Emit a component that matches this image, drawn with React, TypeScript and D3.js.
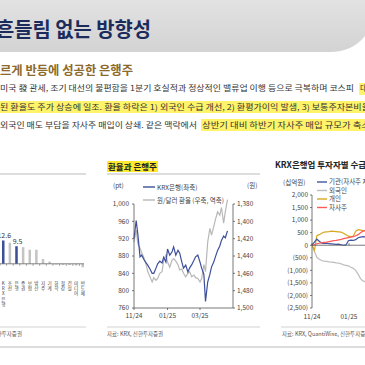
import * as d3 from "d3"

// 좌측 막대 (일부만 보임)
const barCats = ["KRX 은행", "조선", "은행", "증권", "보험", "방산", "지주", "기계", "화학", "철강", "건설", "미디어", "반도체"]
const barVals = [12.6, 11.4, 9.5, 9.0, 7.6, 7.6, 2.6, 1.2, -0.4, -0.6, -0.7, -0.9, -1.9]
const barBlue = ["KRX 은행", "은행"]

// 환율과 은행주
const fxDates = [
  "2024-11-01", "2024-11-05", "2024-11-08", "2024-11-12", "2024-11-15", "2024-11-19", "2024-11-23", "2024-11-26",
  "2024-11-30", "2024-12-04", "2024-12-07", "2024-12-11", "2024-12-14", "2024-12-18", "2024-12-22", "2024-12-25",
  "2024-12-29", "2025-01-01", "2025-01-05", "2025-01-09", "2025-01-12", "2025-01-16", "2025-01-20", "2025-01-23",
  "2025-01-27", "2025-01-30", "2025-02-03", "2025-02-07", "2025-02-10", "2025-02-14", "2025-02-18", "2025-02-21",
  "2025-02-25", "2025-03-01", "2025-03-04", "2025-03-08", "2025-03-11", "2025-03-15", "2025-03-19", "2025-03-22",
  "2025-03-26", "2025-03-29", "2025-04-02", "2025-04-06", "2025-04-09", "2025-04-13", "2025-04-16", "2025-04-20",
]
const krxBank = [
  921, 962, 930, 878, 882, 872, 864, 859, 850, 840, 840, 852, 862, 868, 864, 877,
  866, 896, 882, 889, 901, 882, 893, 887, 866, 852, 859, 843, 852, 860, 870, 878,
  882, 866, 852, 838, 775, 820, 838, 855, 866, 878, 893, 903, 916, 926, 922, 938,
]
const usdKrw = [
  1424, 1410, 1426, 1431, 1436, 1442, 1450, 1458, 1464, 1470, 1465, 1468, 1466, 1460, 1458, 1445,
  1439, 1447, 1453, 1445, 1443, 1446, 1450, 1456, 1455, 1460, 1464, 1460, 1458, 1464, 1462, 1465,
  1466, 1470, 1466, 1450, 1458, 1424, 1408, 1416, 1406, 1398, 1389, 1393, 1384, 1402, 1389, 1375,
]
const fxTicksL = [760, 800, 840, 880, 920, 960, 1000]
const fxTicksR = [1380, 1400, 1420, 1440, 1460, 1480, 1500]
const fxTicksX = [["2024-11-01", "11/24"], ["2025-01-01", "01/25"], ["2025-03-01", "03/25"]]

// KRX은행업 투자자별 수급
const flowDates = [
  "2024-11-01", "2024-11-05", "2024-11-09", "2024-11-13", "2024-11-17", "2024-11-21", "2024-11-25", "2024-11-29",
  "2024-12-03", "2024-12-07", "2024-12-11", "2024-12-15", "2024-12-19", "2024-12-23", "2024-12-27", "2024-12-31",
  "2025-01-04", "2025-01-08", "2025-01-12", "2025-01-16", "2025-01-20", "2025-01-24", "2025-01-28",
]
const flowInst = [0, 120, 240, 160, 80, 70, 80, 60, 50, 40, 30, 40, 20, 0, 10, 180, 200, 190, 220, 300, 320, 340, 330]
const flowForeign = [0, -250, -480, -560, -610, -630, -640, -660, -670, -680, -700, -710, -740, -780, -800, -820, -880, -920, -1000, -1150, -1330, -1420, -1450]
const flowRetail = [0, -200, 380, 420, 480, 520, 530, 540, 560, 550, 540, 530, 520, 480, 420, 360, 340, 360, 560, 620, 600, 580, 560]
const flowBuyback = [0, 20, 60, 80, 100, 110, 120, 140, 160, 180, 190, 210, 230, 260, 280, 300, 320, 340, 380, 420, 500, 560, 600]
const flowTicks = [2000, 1500, 1000, 500, 0, -500, -1000, -1500, -2000, -2500]
const flowTicksX = [["2024-11-01", "11/24"], ["2025-01-01", "01/25"]]

const FONT = "'Noto Sans CJK KR', 'Noto Sans', sans-serif"
const fmt = d3.format(",")

export default function App() {
  // left bars
  const xb = d3.scaleBand().domain(barCats).range([0, 86]).paddingInner(0.62).paddingOuter(0.3)
  const yb = d3.scaleLinear().domain([-2, 12.6]).range([267.5, 240.5])
  const bx = (c: string) => (xb(c) || 0) + xb.bandwidth() / 2

  // middle chart
  const xm = d3.scaleTime().domain([new Date("2024-11-01"), new Date("2025-04-30")]).range([134, 233])
  const yL = d3.scaleLinear().domain([760, 1000]).range([308, 204])
  const yR = d3.scaleLinear().domain([1380, 1500]).range([204, 308])
  const lineL = d3.line<number>().x((_, i) => xm(new Date(fxDates[i]))).y((d) => yL(d))
  const lineR = d3.line<number>().x((_, i) => xm(new Date(fxDates[i]))).y((d) => yR(d))

  // right chart
  const xr = d3.scaleTime().domain([new Date("2024-11-01"), new Date("2025-01-01")]).range([312, 349])
  const yr = d3.scaleLinear().domain([-2500, 2000]).range([308, 195])
  const lineF = d3.line<number>().x((_, i) => xr(new Date(flowDates[i]))).y((d) => yr(d))
  const flowFmt = (v: number) => (v < 0 ? `(${fmt(-v)})` : fmt(v))
  const flowSeries = [
    { name: "기관(자사주 제외)", data: flowInst, color: "#3f56a3" },
    { name: "외국인", data: flowForeign, color: "#bdbdbd" },
    { name: "개인", data: flowRetail, color: "#d8a820" },
    { name: "자사주", data: flowBuyback, color: "#ff5a5a" },
  ]
  const drawOrder = [1, 2, 0, 3]

  return (
    <svg width={365} height={365} style={{ position: "fixed", left: 0, top: 0, background: "#fff" }} fontFamily={FONT}>
      <defs>
        <linearGradient id="hdr" x1="0" y1="0" x2="0" y2="1">
          <stop offset="0" stopColor="#e2e2e2" />
          <stop offset="1" stopColor="#d3d3d3" />
        </linearGradient>
      </defs>

      {/* header */}
      <path d="M0,0 H365 V36 Q352,52 330,52 H0 Z" fill="url(#hdr)" />
      <text x={-4} y={37} fontSize={20} fontWeight={700} fill="#1b2c5c" textLength={155} lengthAdjust="spacingAndGlyphs">
        흔들림 없는 방향성
      </text>
      <text x={0} y={75} fontSize={12} fontWeight={700} fill="#8c6a2c" textLength={133} lengthAdjust="spacingAndGlyphs">
        르게 반등에 성공한 은행주
      </text>

      {/* body */}
      <rect x={359} y={83} width={8} height={12} fill="#fff36a" />
      <rect x={0} y={101} width={365} height={12} fill="#fff36a" />
      <rect x={201} y={119} width={164} height={12} fill="#fff36a" />
      <g fontSize={8} fill="#333">
        <text x={0} y={91} textLength={354} lengthAdjust="spacingAndGlyphs">
          미국 發 관세, 조기 대선의 불편함을 1분기 호실적과 정상적인 밸류업 이행 등으로 극복하며 코스피
        </text>
        <text x={360} y={91}>대</text>
        <text x={0} y={110} textLength={370} lengthAdjust="spacingAndGlyphs">
          된 환율도 주가 상승에 일조. 환율 하락은 1) 외국인 수급 개선, 2) 환평가이익 발생, 3) 보통주자본비율
        </text>
        <text x={0} y={128} textLength={197} lengthAdjust="spacingAndGlyphs">
          외국인 매도 부담을 자사주 매입이 상쇄. 같은 맥락에서
        </text>
        <text x={202} y={128} textLength={168} lengthAdjust="spacingAndGlyphs">
          상반기 대비 하반기 자사주 매입 규모가 축소
        </text>
      </g>

      {/* panel frame lines */}
      <g stroke="#d2d2d2">
        <line x1={0} x2={86} y1={174} y2={174} strokeWidth={1.5} />
        <line x1={107} x2={260} y1={174} y2={174} strokeWidth={1.5} />
        <line x1={0} x2={86} y1={327} y2={327} />
        <line x1={107} x2={260} y1={327} y2={327} />
        <line x1={281} x2={365} y1={327} y2={327} />
        <line x1={0} x2={365} y1={347} y2={347} strokeWidth={1.5} />
      </g>
      <g fontSize={5.5} fill="#555">
        <text x={22} y={336} textAnchor="end">자료: KRX, 신한투자증권</text>
        <text x={107} y={336}>자료: KRX, 신한투자증권</text>
        <text x={282} y={336}>자료: KRX, QuantiWise, 신한투자증권</text>
      </g>

      {/* left bar chart */}
      <g>
        {barCats.map((c, i) => {
          const v = barVals[i]
          const y0 = yb(0)
          const y1 = yb(v)
          return (
            <rect
              key={c}
              x={xb(c)}
              y={Math.min(y0, y1)}
              width={xb.bandwidth()}
              height={Math.abs(y1 - y0)}
              fill={barBlue.includes(c) ? "#3d4f96" : "#c4c4c4"}
            />
          )
        })}
        <line x1={0} x2={84} y1={yb(0)} y2={yb(0)} stroke="#666" strokeWidth={0.8} />
        {barCats.map((c) => (
          <line key={c} x1={(xb(c) || 0) - xb.step() * 0.31} x2={(xb(c) || 0) - xb.step() * 0.31} y1={yb(0)} y2={yb(0) + 2} stroke="#666" strokeWidth={0.6} />
        ))}
        {barCats.map((c, i) =>
          barBlue.includes(c) ? (
            <text key={c} x={bx(c) + 1} y={yb(barVals[i]) - 2.5} fontSize={7} fill="#333" textAnchor="middle">
              {barVals[i].toFixed(1)}
            </text>
          ) : null
        )}
        <g fontSize={4.6} fill="#444" textAnchor="middle">
          {barCats.map((c) => {
            const chars = Array.from(c.replace(" ", ""))
            return (
              <text key={c} x={bx(c)} y={285}>
                {chars.map((r, j) => (
                  <tspan key={j} x={bx(c)} dy={j === 0 ? 0 : 5.2}>
                    {r}
                  </tspan>
                ))}
              </text>
            )
          })}
        </g>
      </g>

      {/* middle chart */}
      <rect x={107} y={161} width={51} height={11} fill="#ffe92e" />
      <text x={108} y={170} fontSize={8.5} fontWeight={700} fill="#222">환율과 은행주</text>
      <g fontSize={6.5} fill="#444">
        <text x={113} y={188}>(pt)</text>
        <text x={247} y={188}>(원)</text>
        <line x1={143} x2={155} y1={187} y2={187} stroke="#3d4f9a" strokeWidth={1.4} />
        <text x={157} y={189.5}>KRX은행(좌축)</text>
        <line x1={143} x2={155} y1={200} y2={200} stroke="#b8b8b8" strokeWidth={1.4} />
        <text x={157} y={202.5}>원/달러 환율 (우축, 역축)</text>
      </g>
      <path d={lineR(usdKrw) || ""} fill="none" stroke="#b8b8b8" strokeWidth={1.2} />
      <path d={lineL(krxBank) || ""} fill="none" stroke="#3d4f9a" strokeWidth={1.2} />
      <g stroke="#555" strokeWidth={0.8}>
        <line x1={134} x2={134} y1={204} y2={308} />
        <line x1={233} x2={233} y1={204} y2={308} />
        <line x1={134} x2={233} y1={308} y2={308} />
        {fxTicksL.map((t) => (
          <line key={t} x1={132} x2={134} y1={yL(t)} y2={yL(t)} />
        ))}
        {fxTicksR.map((t) => (
          <line key={t} x1={233} x2={235} y1={yR(t)} y2={yR(t)} />
        ))}
        {fxTicksX.map(([d]) => (
          <line key={d} x1={xm(new Date(d))} x2={xm(new Date(d))} y1={308} y2={310} />
        ))}
      </g>
      <g fontSize={6.5} fill="#444">
        {fxTicksL.map((t) => (
          <text key={t} x={129} y={yL(t) + 2.3} textAnchor="end">{fmt(t)}</text>
        ))}
        {fxTicksR.map((t) => (
          <text key={t} x={237} y={yR(t) + 2.3}>{fmt(t)}</text>
        ))}
        {fxTicksX.map(([d, l]) => (
          <text key={d} x={xm(new Date(d))} y={318} textAnchor="middle">{l}</text>
        ))}
      </g>

      {/* right chart */}
      <text x={275} y={168} fontSize={8.5} fontWeight={700} fill="#222">KRX은행업 투자자별 수급 추이</text>
      <g fontSize={6.5} fill="#444">
        <text x={283} y={185}>(십억원)</text>
        {flowSeries.map((s, i) => (
          <g key={s.name}>
            <line x1={317} x2={327} y1={182 + i * 8.5} y2={182 + i * 8.5} stroke={s.color} strokeWidth={1.4} />
            <text x={329} y={184.3 + i * 8.5}>{s.name}</text>
          </g>
        ))}
      </g>
      {drawOrder.map((i) => (
        <path key={i} d={lineF(flowSeries[i].data) || ""} fill="none" stroke={flowSeries[i].color} strokeWidth={1.2} />
      ))}
      <g stroke="#555" strokeWidth={0.8}>
        <line x1={312} x2={312} y1={195} y2={308} />
        <line x1={312} x2={365} y1={yr(0)} y2={yr(0)} />
        {flowTicks.map((t) => (
          <line key={t} x1={310} x2={312} y1={yr(t)} y2={yr(t)} />
        ))}
        {flowTicksX.map(([d]) => (
          <line key={d} x1={xr(new Date(d))} x2={xr(new Date(d))} y1={yr(0) - 2} y2={yr(0)} />
        ))}
      </g>
      <g fontSize={6.5} fill="#444">
        {flowTicks.map((t) => (
          <text key={t} x={308} y={yr(t) + 2.3} textAnchor="end">{flowFmt(t)}</text>
        ))}
        {flowTicksX.map(([d, l]) => (
          <text key={d} x={xr(new Date(d))} y={319} textAnchor="middle">{l}</text>
        ))}
      </g>
    </svg>
  )
}
